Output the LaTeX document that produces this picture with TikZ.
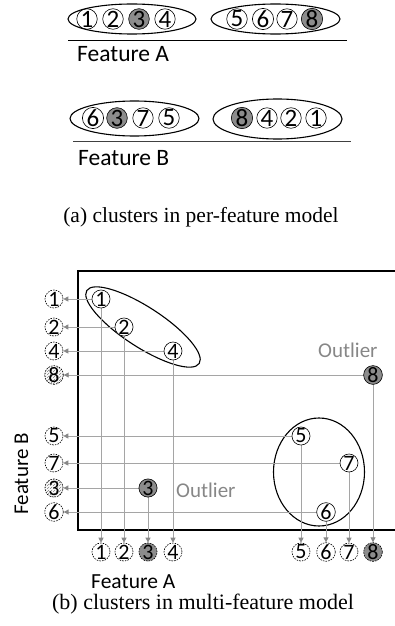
\documentclass[tikz,border=0pt]{standalone}
\usepackage{fontspec}
\setmainfont{Liberation Serif}
\newfontfamily\carl{Carlito}
\usetikzlibrary{arrows.meta,patterns}
\definecolor{fillg}{RGB}{140,140,140}
\definecolor{lineg}{RGB}{165,165,165}
\definecolor{tipg}{RGB}{135,135,135}
\definecolor{txtg}{RGB}{135,135,135}
\tikzset{
  topnum/.style={circle,draw=black,line width=0.6pt,inner sep=0pt,minimum size=19pt,font=\carl\fontsize{25}{25}\selectfont},
  ptnode/.style={circle,draw=black,line width=0.6pt,fill=white,inner sep=0pt,minimum size=18pt,font=\carl\fontsize{22}{22}\selectfont},
  projnode/.style={circle,draw=black,line width=0.6pt,dash pattern=on 1.6pt off 1.1pt,fill=white,inner sep=0pt,minimum size=18pt,font=\carl\fontsize{22}{22}\selectfont},
  darkfill/.style={fill=fillg},
  hatchfill/.style={pattern=north east lines,pattern color=gray},
  clusline/.style={draw=black,line width=1.1pt},
  prjline/.style={draw=lineg,line width=0.8pt,-{Triangle[length=5pt,width=5pt,color=tipg]}},
  axisline/.style={draw=black,line width=1.1pt},
  lbltxt/.style={font=\carl\fontsize{21}{21}\selectfont,inner sep=0pt},
  outltxt/.style={font=\carl\fontsize{21}{21}\selectfont,text=txtg,inner sep=0pt},
  captxt/.style={inner sep=0pt}
}
\begin{document}
\begin{tikzpicture}[x=1pt,y=-1pt]
\useasboundingbox (0,0) rectangle (394,626);
% ---- (a) per-feature model ----
\draw[clusline] (132,19) ellipse [x radius=64, y radius=15];
\draw[clusline] (275.5,19) ellipse [x radius=64.5, y radius=15];
\node[topnum] (a1) at (87,19) {1};
\node[topnum] (a2) at (113,19) {2};
\node[topnum,darkfill] (a3) at (139,19) {3};
\node[topnum] (a4) at (165,19) {4};
\node[topnum] (a5) at (237,19) {5};
\node[topnum] (a6) at (263,19) {6};
\node[topnum] (a7) at (287,19) {7};
\node[topnum,darkfill] (a8) at (312,19) {8};
\coordinate (la1) at (68,40.7);
\coordinate (la2) at (347,40.7);
\draw[line width=0.8pt] (la1) -- (la2);
\node[lbltxt,anchor=base west,font=\carl\fontsize{23.5}{23.5}\selectfont] (fa) at (77,61) {Feature A};

\draw[clusline] (134.5,118.5) ellipse [x radius=64.5, y radius=17.5];
\draw[clusline] (277.5,119) ellipse [x radius=64.5, y radius=20];
\node[topnum] (b6) at (93,118) {6};
\node[topnum,darkfill] (b3) at (117,118) {3};
\node[topnum] (b7) at (143,118) {7};
\node[topnum] (b5) at (169,118) {5};
\node[topnum,darkfill] (b8) at (242,118) {8};
\node[topnum] (b4) at (267,118) {4};
\node[topnum] (b2) at (291,118) {2};
\node[topnum] (b1) at (316,118) {1};
\coordinate (lb1) at (73,141.7);
\coordinate (lb2) at (351,141.7);
\draw[line width=0.8pt,draw=black!75] (lb1) -- (lb2);
\node[lbltxt,anchor=base west,font=\carl\fontsize{23.5}{23.5}\selectfont] (fb) at (78,165) {Feature B};

\node[captxt,anchor=base,font=\fontsize{21.5}{21.5}\selectfont] (capa) at (201,222) {(a) clusters in per-feature model};

% ---- (b) multi-feature model ----
\coordinate (o) at (78,530);
\coordinate (tl) at (78,271);
\coordinate (tr) at (396,271);
\coordinate (br) at (396,530);
\draw[axisline] (tr) -- (tl) -- (o) -- (br);

\draw[clusline,rotate around={-33:(143,327)}] (143,327) ellipse [x radius=67, y radius=20];
\draw[clusline] (319,472) ellipse [x radius=45.5, y radius=54];

% points
\coordinate (q1) at (101,299);
\coordinate (q2) at (124,327);
\coordinate (q4) at (173,351);
\coordinate (q8) at (373,375);
\coordinate (q5) at (301,436);
\coordinate (q7) at (349,463);
\coordinate (q3) at (148,488);
\coordinate (q6) at (326,512);

% left projections
\node[projnode] (l1) at (54,299) {1};
\node[projnode] (l2) at (54,327) {2};
\node[projnode] (l4) at (54,351) {4};
\node[projnode,hatchfill] (l8) at (54,375) {8};
\node[projnode] (l5) at (54,436) {5};
\node[projnode] (l7) at (54,463) {7};
\node[projnode,hatchfill] (l3) at (54,488) {3};
\node[projnode] (l6) at (54,512) {6};
% bottom projections
\node[projnode] (d1) at (101,552) {1};
\node[projnode] (d2) at (124,552) {2};
\node[projnode,darkfill] (d3) at (148,552) {3};
\node[projnode] (d4) at (173,552) {4};
\node[projnode] (d5) at (301,552) {5};
\node[projnode] (d6) at (326,552) {6};
\node[projnode] (d7) at (349,552) {7};
\node[projnode,darkfill] (d8) at (373,552) {8};

\foreach \i in {1,2,3,4,5,6,7,8}{
  \draw[prjline] (q\i) -- (l\i);
  \draw[prjline] (q\i) -- (d\i);
}

\node[ptnode] (p1) at (q1) {1};
\node[ptnode] (p2) at (q2) {2};
\node[ptnode] (p4) at (q4) {4};
\node[ptnode,darkfill] (p8) at (q8) {8};
\node[ptnode] (p5) at (q5) {5};
\node[ptnode] (p7) at (q7) {7};
\node[ptnode,darkfill] (p3) at (q3) {3};
\node[ptnode] (p6) at (q6) {6};

\node[outltxt,anchor=base west] (out1) at (318,357) {Outlier};
\node[outltxt,anchor=base west] (out2) at (176,497) {Outlier};

\node[lbltxt,anchor=base,rotate=90,font=\carl\fontsize{21}{21}\selectfont] (fby) at (28,474) {Feature B};
\node[lbltxt,anchor=base west,font=\carl\fontsize{21.5}{21.5}\selectfont] (fax) at (91,588) {Feature A};

\node[captxt,anchor=base,font=\fontsize{22}{22}\selectfont] (capb) at (203,609) {(b) clusters in multi-feature model};
\end{tikzpicture}
\end{document}
